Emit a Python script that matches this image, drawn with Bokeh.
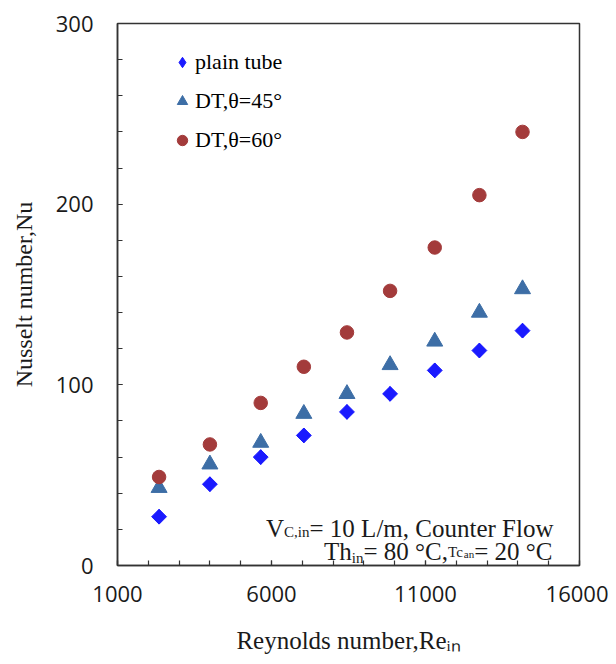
import numpy as np
from bokeh.plotting import figure
from bokeh.models import Legend, LegendItem, Label, FixedTicker, Range1d
from bokeh.embed import file_html
from bokeh.resources import INLINE

# ---- data ----
reynolds = [2350, 4000, 5650, 7050, 8450, 9850, 11300, 12750, 14150]
nu_plain = [27, 45, 60, 72, 85, 95, 108, 119, 130]
nu_dt45 = [43, 56, 68, 84, 95, 111, 124, 140, 153]
nu_dt60 = [49, 67, 90, 110, 129, 152, 176, 205, 240]

x_ticks = [1000, 6000, 11000, 16000]
x_minor = list(range(1000, 16001, 1000))
y_ticks = [0, 100, 200, 300]
y_minor = list(range(0, 301, 20))

legend_labels = ["plain tube", "DT,\u03b8=45\u00b0", "DT,\u03b8=60\u00b0"]

SERIF = "Liberation Serif"
SANS = "Open Sans"
INK = "#1a1a1a"
FRAME = "#333333"

FL, FR, FT, FB = 117, 29, 23, 91
W, H = 608, 656

p = figure(width=W, height=H, x_range=Range1d(1000, 16000), y_range=Range1d(0, 300),
           output_backend="svg", toolbar_location=None,
           min_border_left=FL, min_border_right=FR, min_border_top=FT, min_border_bottom=FB)
p.grid.visible = False
p.outline_line_color = FRAME
p.outline_line_width = 1.5
p.background_fill_color = "white"
p.border_fill_color = "white"

for ax in (p.xaxis[0], p.yaxis[0]):
    ax.axis_line_color = FRAME
    ax.axis_line_width = 1.5
    ax.major_tick_line_color = FRAME
    ax.minor_tick_line_color = FRAME
    ax.major_tick_line_width = 1.2
    ax.minor_tick_line_width = 1.2
    ax.major_tick_in = 5
    ax.major_tick_out = 0
    ax.minor_tick_in = 5
    ax.minor_tick_out = 0
    ax.major_label_text_font = SANS
    ax.major_label_text_font_size = "22px"
    ax.major_label_text_color = INK
    ax.axis_label_text_font = SERIF
    ax.axis_label_text_font_style = "normal"
    ax.axis_label_text_color = INK

p.xaxis.ticker = FixedTicker(ticks=x_ticks, minor_ticks=x_minor)
p.yaxis.ticker = FixedTicker(ticks=y_ticks, minor_ticks=y_minor)
p.xaxis.major_label_standoff = 20
p.yaxis.major_label_standoff = 24

p.yaxis.axis_label = "Nusselt number,Nu"
p.yaxis.axis_label_text_font_size = "24px"
p.yaxis.axis_label_standoff = 16

p.xaxis.axis_label = "Reynolds number,Re\u1d62\u2099"
p.xaxis.axis_label_text_font_size = "25px"
p.xaxis.axis_label_standoff = 22

# legend proxy for the diamond (hidden under the rotated squares)
r1_leg = p.scatter(reynolds, nu_plain, marker="diamond", size=14.5,
                   fill_color="#1a1aff", line_color="#1a1aff")
r1 = p.scatter(reynolds, nu_plain, marker="square", angle=np.pi / 4, size=10.5,
               fill_color="#1a1aff", line_color="#1a1aff")
r2 = p.scatter(reynolds, nu_dt45, marker="triangle", size=16,
               fill_color="#3d6ea6", line_color="#3d6ea6")
r3 = p.scatter(reynolds, nu_dt60, marker="circle", size=13.5,
               fill_color="#a33b3b", line_color="#a33b3b")

legend = Legend(items=[LegendItem(label=legend_labels[0], renderers=[r1_leg]),
                       LegendItem(label=legend_labels[1], renderers=[r2]),
                       LegendItem(label=legend_labels[2], renderers=[r3])],
                location=(47, 402), padding=5, margin=0, spacing=3,
                glyph_width=26, glyph_height=36, label_height=36, label_standoff=0,
                label_text_font=SERIF, label_text_font_size="22px", label_text_color="black",
                border_line_alpha=0, background_fill_alpha=0)
p.add_layout(legend, "center")

# ---- annotation composed of pieces (Times-compatible widths) ----
CW = {' ': 250, ',': 250, '.': 250, '/': 278, '=': 564, '\u00b0': 400,
      'C': 667, 'F': 556, 'L': 611, 'T': 611, 'V': 722, 'R': 667, 'N': 722,
      'a': 444, 'b': 500, 'c': 444, 'd': 500, 'e': 444, 'h': 500, 'i': 278,
      'l': 278, 'm': 778, 'n': 500, 'o': 500, 'r': 333, 's': 389, 't': 278,
      'u': 500, 'w': 722, 'y': 500}


def tw(s, size):
    return sum(CW.get(c, 500) for c in s) * size / 1000.0


frame_left = FL
frame_bottom = FT + (H - FT - FB)


def place(pieces, baseline, right):
    total = sum(tw(t, s) for t, s, _ in pieces)
    cur = right - total
    for t, s, dy in pieces:
        p.add_layout(Label(x=1000, y=0, x_offset=cur - frame_left,
                           y_offset=frame_bottom - baseline + dy, text=t,
                           text_font=SERIF, text_font_size=f"{s}px", text_color=INK,
                           text_baseline="alphabetic", text_align="left"))
        cur += tw(t, s)


place([("V", 25, 0), ("C,in", 15, -3), ("= 10 L/m, Counter Flow", 25, 0)],
      baseline=528, right=553)
place([("Th", 25, 0), ("in", 15, -6), ("= 80 \u00b0C,", 25, 0), ("Tc", 15, 0),
       ("an", 11, -2), ("= 20 \u00b0C", 25, 0)], baseline=551, right=552)

open("out.html", "w").write(file_html(p, INLINE))
